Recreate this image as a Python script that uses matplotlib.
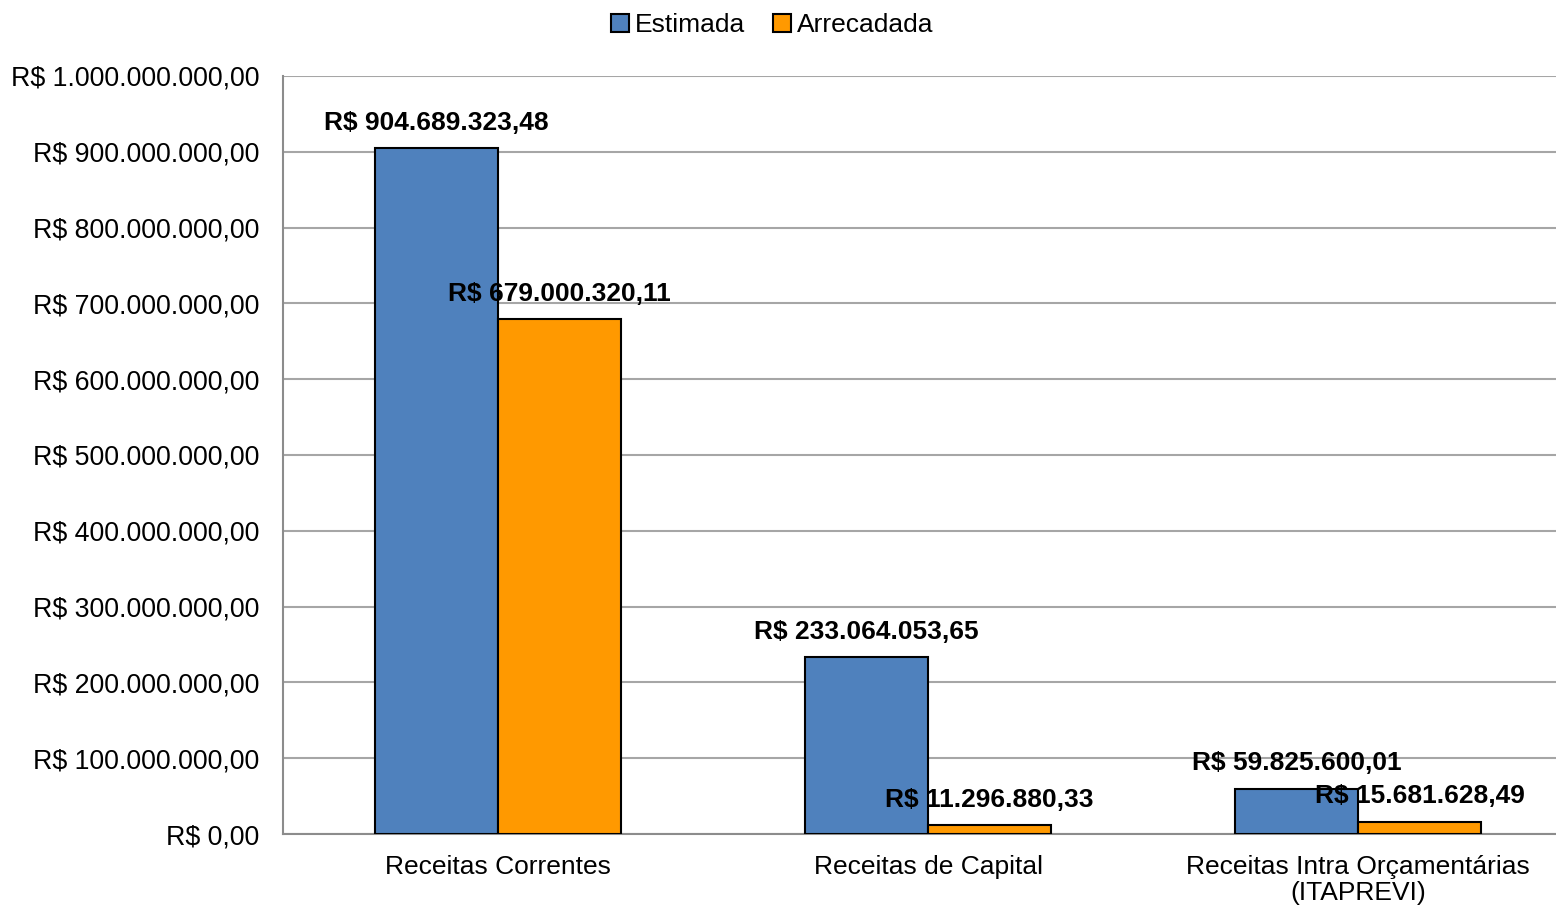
import matplotlib
matplotlib.use("Agg")
import matplotlib.pyplot as plt
import numpy as np
from matplotlib.ticker import FuncFormatter, MultipleLocator
from matplotlib.patches import Patch

categories = ["Receitas Correntes", "Receitas de Capital", "Receitas Intra Orçamentárias\n(ITAPREVI)"]
series_names = ["Estimada", "Arrecadada"]
estimada = [904689323.48, 233064053.65, 59825600.01]
arrecadada = [679000320.11, 11296880.33, 15681628.49]
colors = ["#4F81BD", "#FF9900"]

plt.rcParams['font.family'] = ['Liberation Sans', 'DejaVu Sans']

def brl(v, decimals=2):
    s = f"{v:,.{decimals}f}"
    s = s.replace(",", "X").replace(".", ",").replace("X", ".")
    return "R$ " + s

fig = plt.figure(figsize=(15.56, 9.09), dpi=100)
ax = fig.add_axes([283/1556, 1-834/909, 1-283/1556, (834-76)/909])

x = np.arange(len(categories))
w = 0.286
b1 = ax.bar(x - w/2, estimada, w, color=colors[0], edgecolor="black", linewidth=1.5, zorder=3)
b2 = ax.bar(x + w/2, arrecadada, w, color=colors[1], edgecolor="black", linewidth=1.5, zorder=3)

for bars, vals in ((b1, estimada), (b2, arrecadada)):
    for r, v in zip(bars, vals):
        ax.annotate(brl(v), (r.get_x() + r.get_width()/2, v), xytext=(0, 18.5),
                    textcoords="offset points", ha="center", va="center",
                    fontsize=19, fontweight="bold", color="black", zorder=5)

ax.set_xlim(-0.5, (1556-498)/430)
ax.set_ylim(0, 1e9)
ax.yaxis.set_major_locator(MultipleLocator(1e8))
ax.yaxis.set_major_formatter(FuncFormatter(lambda v, p: brl(v)))
ax.set_xticks(x)
ax.set_xticklabels(categories, fontsize=19, linespacing=1.1)
ax.tick_params(axis="y", labelsize=19.3, length=0, pad=17)
ax.tick_params(axis="x", length=0, pad=15)
ax.grid(axis="y", color="#A6A6A6", linewidth=1.5, zorder=0)
ax.set_axisbelow(True)
for s in ["top", "right"]:
    ax.spines[s].set_visible(False)
for s in ["left", "bottom"]:
    ax.spines[s].set_color("#8C8C8C")
    ax.spines[s].set_linewidth(1.5)

handles = [Patch(facecolor=c, edgecolor="black", linewidth=1.5) for c in colors]
fig.legend(handles, series_names, loc="center", bbox_to_anchor=(772/1556, 1-25/909),
           ncol=2, frameon=False, fontsize=19, handlelength=0.7, handleheight=0.7,
           handletextpad=0.2, columnspacing=1.05)

fig.savefig("out.png", dpi=100)
